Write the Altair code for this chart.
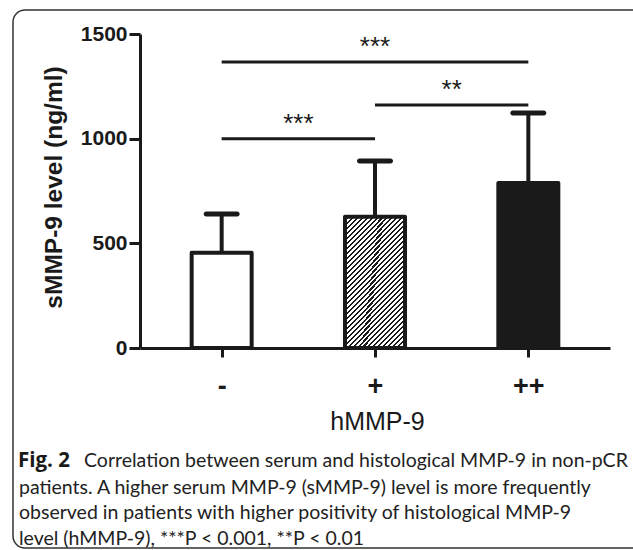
import altair as alt
import pandas as pd

# ---------------- data ----------------
categories = ["-", "+", "++"]
means = [455, 627, 788]          # bar heights (sMMP-9, ng/ml)
upper = [640, 893, 1123]         # mean + SD (error bar tops)

cmp_from = [0, 1, 0]
cmp_to = [1, 2, 2]
cmp_level = [1000, 1161, 1366]
cmp_label = ["***", "**", "***"]

y_ticks = [0, 500, 1000, 1500]

caption_bold = "Fig. 2"
caption_lines = [
    "Correlation between serum and histological MMP-9 in non-pCR",
    "patients. A higher serum MMP-9 (sMMP-9) level is more frequently",
    "observed in patients with higher positivity of histological MMP-9",
    "level (hMMP-9), ***P < 0.001, **P < 0.01",
]

# ---------------- styles ----------------
INK = "#1a1a1a"
FONT = "Liberation Sans, Arial, sans-serif"
CAP_FONT = "Lato, Open Sans, sans-serif"

bars_df = pd.DataFrame({"idx": list(range(len(categories))), "cat": categories,
                        "mean": means, "upper": upper})
sig_df = pd.DataFrame({"x1": cmp_from, "x2": cmp_to, "level": cmp_level, "label": cmp_label})

xscale = alt.Scale(domain=[-0.5, len(categories) - 0.5], nice=False, zero=False)
yscale = alt.Scale(domain=[0, 1500], nice=False)

label_expr = "[" + ",".join("'%s'" % c for c in categories) + "][datum.value]"

x_axis = alt.Axis(values=list(range(len(categories))), labelExpr=label_expr, title="hMMP-9",
                  domainWidth=3, domainColor=INK, tickColor=INK, tickWidth=3, tickSize=9,
                  labelFont=FONT, labelFontSize=27, labelFontWeight="bold", labelColor=INK,
                  labelBaseline="alphabetic", labelPadding=37, labelFlush=False, grid=False,
                  titleFont=FONT, titleFontSize=25, titleFontWeight="normal", titleColor=INK,
                  titleX=237, titleY=81, titleBaseline="alphabetic", titleAlign="center")
y_axis = alt.Axis(values=y_ticks, format="d", title="sMMP-9 level (ng/ml)",
                  domainWidth=3, domainColor=INK, tickColor=INK, tickWidth=3, tickSize=11,
                  labelFont=FONT, labelFontSize=21, labelFontWeight="bold", labelColor=INK,
                  labelPadding=2, labelFlush=False, grid=False,
                  titleFont=FONT, titleFontSize=24.5, titleFontWeight="bold", titleColor=INK,
                  titleX=-86, titleY=153, titleAngle=270, titleAlign="center", titleBaseline="middle")

base = alt.Chart(bars_df)

stems = base.mark_rule(color=INK, strokeWidth=4).encode(
    x=alt.X("idx:Q", scale=xscale, axis=x_axis),
    y=alt.Y("mean:Q", scale=yscale, axis=y_axis),
    y2="upper:Q",
)
caps = base.mark_tick(orient="horizontal", size=36, thickness=5, color=INK,
                      cornerRadius=2.5, opacity=1).encode(x="idx:Q", y="upper:Q")

# hatched fill as a striped gradient (diagonal "/" lines)
N = 40
stops = []
for i in range(N):
    a = i / N
    b = (i + 0.58) / N
    c = (i + 1) / N
    stops += [alt.GradientStop(offset=a, color="white"), alt.GradientStop(offset=b, color="white"),
              alt.GradientStop(offset=b, color=INK), alt.GradientStop(offset=c, color=INK)]
hatch = alt.LinearGradient(gradient="linear", stops=stops, x1=0, y1=0, x2=0.581, y2=1.25)

fills = ["white", hatch, INK]
bar_layers = []
for i, f in enumerate(fills):
    bar_layers.append(
        base.transform_filter(alt.datum.idx == i).mark_bar(
            size=60, fill=f, stroke=INK, strokeWidth=4, strokeJoin="round", orient="vertical"
        ).encode(x="idx:Q", y=alt.Y("mean:Q", stack=None))
    )

sig_rules = alt.Chart(sig_df).mark_rule(color=INK, strokeWidth=3).encode(
    x="x1:Q", x2="x2:Q", y="level:Q")
sig_text = alt.Chart(sig_df).transform_calculate(xm="(datum.x1 + datum.x2) / 2").mark_text(
    font=FONT, fontSize=26, color=INK, baseline="alphabetic", dy=-7).encode(
    x="xm:Q", y="level:Q", text="label:N")

one = pd.DataFrame({"a": [0]})
frame = alt.Chart(one).mark_rect(filled=False, stroke="#333333", strokeWidth=1.5,
                                 cornerRadius=12).encode(
    x=alt.value(-127), x2=alt.value(520), y=alt.value(-24), y2=alt.value(514))

cap_layers = [
    alt.Chart(one).mark_text(text=caption_bold, font="Open Sans, Lato, sans-serif", fontSize=20.5,
                             fontWeight="bold", color=INK, align="left", baseline="alphabetic").encode(
        x=alt.value(-122), y=alt.value(433))
]
cap_x = [-56, -121, -121, -121]
cap_y = [433, 460, 485, 511]
for t, xx, yy in zip(caption_lines, cap_x, cap_y):
    cap_layers.append(
        alt.Chart(one).mark_text(text=t, font=CAP_FONT, fontSize=19.5, color="#222222",
                                 align="left", baseline="alphabetic").encode(
            x=alt.value(xx), y=alt.value(yy)))

chart = alt.layer(frame, sig_rules, sig_text, stems, caps, *bar_layers, *cap_layers).properties(
    width=470, height=314,
    autosize=alt.AutoSizeParams(type="none"),
    padding={"left": 140, "top": 34, "right": 23, "bottom": 202},
    background="white",
).configure_view(stroke=None)

chart.save("out.html", embed_options={"renderer": "svg", "actions": False})
